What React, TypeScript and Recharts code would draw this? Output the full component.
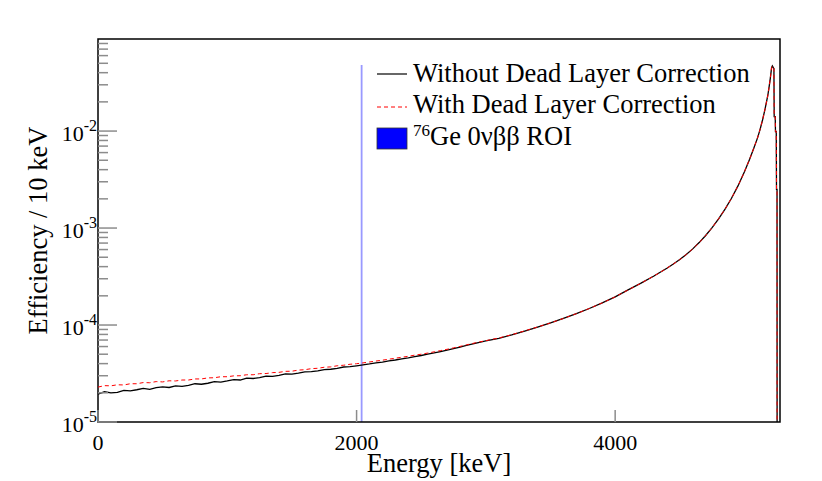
import React from 'react'
import { LineChart, Line, XAxis, YAxis, ReferenceArea, Legend, Label } from 'recharts'

const FONT = '"Liberation Serif", "Times New Roman", serif'

// energy bin positions [keV]
const energyKeV = [
  0, 50, 100, 150, 200, 250, 300, 350, 400, 450,
  500, 550, 600, 650, 700, 750, 800, 850, 900, 950,
  1000, 1050, 1100, 1150, 1200, 1250, 1300, 1350, 1400, 1450,
  1500, 1550, 1600, 1650, 1700, 1750, 1800, 1850, 1900, 1950,
  2000, 2050, 2100, 2150, 2200, 2250, 2300, 2350, 2400, 2450,
  2500, 2550, 2600, 2650, 2700, 2750, 2800, 2850, 2900, 2950,
  3000, 3100, 3200, 3300, 3400, 3500, 3600, 3700, 3800, 3900,
  4000, 4100, 4200, 4300, 4400, 4450, 4500, 4550, 4600, 4650,
  4700, 4750, 4800, 4850, 4900, 4950, 5000, 5040, 5070, 5100,
  5120, 5140, 5160, 5180, 5190, 5200, 5210, 5216, 5228, 5230,
  5238, 5240, 5246, 5248, 5252, 5253,
]

const withoutCorrection = [
  1.94e-5, 2.05e-5, 2.0e-5, 2.02e-5, 2.12e-5, 2.09e-5, 2.15e-5, 2.22e-5, 2.17e-5, 2.26e-5,
  2.3e-5, 2.27e-5, 2.36e-5, 2.33e-5, 2.38e-5, 2.48e-5, 2.45e-5, 2.51e-5, 2.61e-5, 2.58e-5,
  2.65e-5, 2.74e-5, 2.71e-5, 2.83e-5, 2.81e-5, 2.87e-5, 2.97e-5, 2.96e-5, 3.02e-5, 3.13e-5,
  3.12e-5, 3.19e-5, 3.29e-5, 3.31e-5, 3.37e-5, 3.47e-5, 3.5e-5, 3.58e-5, 3.69e-5, 3.72e-5,
  3.8e-5, 3.89e-5, 3.97e-5, 4.07e-5, 4.15e-5, 4.26e-5, 4.36e-5, 4.48e-5, 4.58e-5, 4.72e-5,
  4.85e-5, 5.01e-5, 5.15e-5, 5.33e-5, 5.5e-5, 5.71e-5, 5.92e-5, 6.16e-5, 6.4e-5, 6.63e-5,
  6.85e-5, 7.3e-5, 7.9e-5, 8.65e-5, 9.5e-5, 1.05e-4, 1.17e-4, 1.31e-4, 1.48e-4, 1.69e-4,
  1.95e-4, 2.3e-4, 2.7e-4, 3.2e-4, 3.85e-4, 4.25e-4, 4.73e-4, 5.33e-4, 6.1e-4, 7.08e-4,
  8.38e-4, 1.01e-3, 1.245e-3, 1.57e-3, 2.03e-3, 2.72e-3, 3.8e-3, 5.13e-3, 6.53e-3, 8.41e-3,
  1.03e-2, 1.3e-2, 1.7e-2, 2.3e-2, 2.8e-2, 3.5e-2, 4.5e-2, 4.7e-2, 4.4e-2, 1.41e-2,
  1.41e-2, 9.9e-3, 9.9e-3, 2.5e-3, 2.5e-3, 1e-7,
]

const withCorrection = [
  2.29e-5, 2.37e-5, 2.36e-5, 2.42e-5, 2.41e-5, 2.48e-5, 2.48e-5, 2.55e-5, 2.54e-5, 2.61e-5,
  2.59e-5, 2.66e-5, 2.65e-5, 2.71e-5, 2.71e-5, 2.78e-5, 2.78e-5, 2.85e-5, 2.86e-5, 2.93e-5,
  2.93e-5, 2.99e-5, 3.0e-5, 3.07e-5, 3.07e-5, 3.15e-5, 3.16e-5, 3.23e-5, 3.25e-5, 3.33e-5,
  3.34e-5, 3.43e-5, 3.46e-5, 3.55e-5, 3.58e-5, 3.67e-5, 3.7e-5, 3.8e-5, 3.85e-5, 3.94e-5,
  3.99e-5, 4.07e-5, 4.16e-5, 4.25e-5, 4.34e-5, 4.44e-5, 4.55e-5, 4.65e-5, 4.76e-5, 4.89e-5,
  5.0e-5, 5.14e-5, 5.29e-5, 5.45e-5, 5.62e-5, 5.81e-5, 6.02e-5, 6.24e-5, 6.47e-5, 6.69e-5,
  6.9e-5, 7.35e-5, 7.95e-5, 8.7e-5, 9.55e-5, 1.05e-4, 1.17e-4, 1.31e-4, 1.48e-4, 1.69e-4,
  1.95e-4, 2.3e-4, 2.7e-4, 3.2e-4, 3.85e-4, 4.25e-4, 4.73e-4, 5.33e-4, 6.1e-4, 7.08e-4,
  8.38e-4, 1.01e-3, 1.245e-3, 1.57e-3, 2.03e-3, 2.72e-3, 3.8e-3, 5.13e-3, 6.53e-3, 8.41e-3,
  1.03e-2, 1.3e-2, 1.7e-2, 2.3e-2, 2.8e-2, 3.5e-2, 4.5e-2, 4.7e-2, 4.4e-2, 1.41e-2,
  1.41e-2, 9.9e-3, 9.9e-3, 2.5e-3, 2.5e-3, 1e-7,
]

const xTicks = [0, 2000, 4000]
const yTicks = [
  1e-5, 2e-5, 3e-5, 4e-5, 5e-5, 6e-5, 7e-5, 8e-5, 9e-5,
  1e-4, 2e-4, 3e-4, 4e-4, 5e-4, 6e-4, 7e-4, 8e-4, 9e-4,
  1e-3, 2e-3, 3e-3, 4e-3, 5e-3, 6e-3, 7e-3, 8e-3, 9e-3,
  1e-2, 2e-2, 3e-2, 4e-2, 5e-2, 6e-2, 7e-2, 8e-2,
]
const xDomain = [0, 5275]
const yDomain = [1e-5, 0.089]

// 76Ge Q-value window
const roiKeV = [2032, 2046]
const roiHeight = 0.048

const legendLabels = ['Without Dead Layer Correction', 'With Dead Layer Correction']

const data = energyKeV.map((e, i) => ({
  energy: e,
  without: withoutCorrection[i],
  with: withCorrection[i],
}))

function YTick({ x, y, payload }: any) {
  const exp = Math.round(Math.log10(payload.value))
  const isMajor = Math.abs(payload.value - Math.pow(10, exp)) < 1e-12
  return (
    <g>
      <line x1={x} y1={y} x2={x + (isMajor ? 19 : 10)} y2={y} stroke="#8c8c8c" strokeWidth={1.5} />
      {isMajor && (
        <text x={x - 1} y={y + 10} textAnchor="end" fontFamily={FONT} fontSize={22} fill="#000">
          <tspan>10</tspan>
          <tspan dy={-10} fontSize={16}>{exp}</tspan>
        </text>
      )}
    </g>
  )
}

function XTick({ x, y, payload }: any) {
  return (
    <g>
      <line x1={x} y1={y} x2={x} y2={y - 12} stroke="#8c8c8c" strokeWidth={1.5} />
      <text x={x} y={y + 28} textAnchor="middle" fontFamily={FONT} fontSize={22} fill="#000">
        {payload.value}
      </text>
    </g>
  )
}

function LegendBox() {
  return (
    <svg width={420} height={100} style={{ overflow: 'visible' }}>
      <line x1={7} y1={19} x2={37} y2={19} stroke="#000" strokeWidth={1.2} />
      <text x={43} y={27} fontFamily={FONT} fontSize={26.5} fill="#000">{legendLabels[0]}</text>
      <line x1={7} y1={52} x2={37} y2={52} stroke="#ff0000" strokeWidth={1} strokeDasharray="4 3" />
      <text x={43} y={58} fontFamily={FONT} fontSize={26.5} fill="#000">{legendLabels[1]}</text>
      <rect x={7} y={73} width={30} height={21} fill="#0000ff" stroke="#333" strokeWidth={0.8} />
      <text x={43} y={90} fontFamily={FONT} fontSize={26.5} fill="#000">
        <tspan dy={-9} fontSize={17}>76</tspan>
        <tspan dy={9}>Ge 0νββ ROI</tspan>
      </text>
    </svg>
  )
}

export default function App() {
  return (
    <div style={{ position: 'absolute', left: 0, top: 0, width: 822, height: 481, background: '#fff' }}>
      <LineChart width={822} height={481} data={data} margin={{ top: 39, right: 42, bottom: 0, left: 0 }}>
        <XAxis
          dataKey="energy"
          type="number"
          domain={xDomain}
          ticks={xTicks}
          allowDataOverflow
          height={59}
          axisLine={false}
          tickLine={false}
          tickSize={0}
          tickMargin={0}
          interval={0}
          tick={<XTick />}
        >
          <Label
            content={({ viewBox }: any) => (
              <text x={viewBox.x + viewBox.width / 2} y={472} textAnchor="middle" fontFamily={FONT} fontSize={26.5} fill="#000">
                Energy [keV]
              </text>
            )}
          />
        </XAxis>
        <YAxis
          scale="log"
          type="number"
          domain={yDomain}
          ticks={yTicks}
          allowDataOverflow
          width={98}
          axisLine={false}
          tickLine={false}
          tickSize={0}
          tickMargin={0}
          interval={0}
          tick={<YTick />}
        >
          <Label
            content={({ viewBox }: any) => {
              const cy = viewBox.y + viewBox.height / 2
              return (
                <text x={47} y={cy} transform={`rotate(-90 47 ${cy})`} textAnchor="middle" fontFamily={FONT} fontSize={26.5} fill="#000">
                  Efficiency / 10 keV
                </text>
              )
            }}
          />
        </YAxis>
        <ReferenceArea x1={roiKeV[0]} x2={roiKeV[1]} y1={yDomain[0]} y2={roiHeight} fill="#9999ff" fillOpacity={1} stroke="none" />
        <Line dataKey="without" stroke="#000" strokeWidth={1.3} dot={false} type="linear" isAnimationActive={false} />
        <Line dataKey="with" stroke="#ff0000" strokeWidth={1} strokeDasharray="4 3" dot={false} type="linear" isAnimationActive={false} />
        <ReferenceArea x1={xDomain[0]} x2={xDomain[1]} y1={yDomain[0]} y2={yDomain[1]} fill="none" stroke="#000" strokeWidth={1.5} />
        <Legend
          layout="vertical"
          align="center"
          verticalAlign="middle"
          wrapperStyle={{ left: 370, top: 55, width: 420, height: 100 }}
          content={() => <LegendBox />}
        />
      </LineChart>
    </div>
  )
}
